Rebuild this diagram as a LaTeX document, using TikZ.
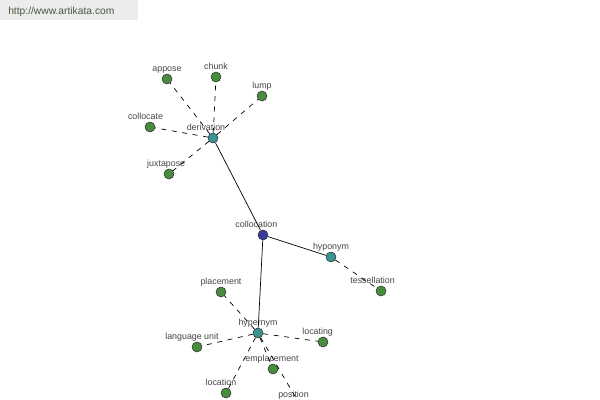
\documentclass[tikz,border=0pt]{standalone}
\usepackage{fontspec}
\setmainfont{Liberation Sans}
\usetikzlibrary{positioning}
\definecolor{leafgreen}{RGB}{72,140,62}
\definecolor{hubteal}{RGB}{58,148,148}
\definecolor{rootblue}{RGB}{58,58,160}
\definecolor{labelgray}{RGB}{70,70,70}
\definecolor{markbg}{RGB}{236,236,236}
\definecolor{marktext}{RGB}{70,90,60}
\tikzset{
  dot/.style={circle, draw=black!80, line width=0.4pt, minimum size=0.25cm, inner sep=0pt},
  leaf/.style={dot, fill=leafgreen},
  hub/.style={dot, fill=hubteal},
  root/.style={dot, fill=rootblue},
  lbl/.style={anchor=base, font=\fontsize{6.3}{7}\selectfont, text=labelgray, inner sep=0pt},
  rel/.style={line width=0.5pt, black},
  weak/.style={line width=0.5pt, black, dash pattern=on 3.5pt off 4pt},
}

\begin{document}
\begin{tikzpicture}[x=0.025cm, y=-0.025cm, label distance=1.3pt]
  \useasboundingbox (0,0) rectangle (600,400);
  \clip (0,0) rectangle (600,400);
  \fill[white] (0,0) rectangle (600,400);
  % watermark
  \fill[markbg] (0,0) rectangle (138,20);
  \node[anchor=base west, inner sep=0pt, text=marktext, font=\fontsize{7.3}{9}\selectfont] (site) at (8,15) {http://www.artikata.com};

  % centre
  \node[root, label={[lbl, xshift=-4.7pt]above:collocation}] (collocation) at (263,235) {};
  \node[hub, label={[lbl, xshift=-5pt]above:derivation}] (derivation) at (213,138) {};
  \node[hub, label={[lbl]above:hyponym}] (hyponym) at (331,257) {};
  \node[hub, label={[lbl]above:hypernym}] (hypernym) at (258,333) {};

  % derivation leaves
  \node[leaf, label={[lbl]above:appose}] (appose) at (167,79) {};
  \node[leaf, label={[lbl]above:chunk}] (chunk) at (216,77) {};
  \node[leaf, label={[lbl]above:lump}] (lump) at (262,96) {};
  \node[leaf, label={[lbl, xshift=-3.2pt]above:collocate}] (collocate) at (150,127) {};
  \node[leaf, label={[lbl, xshift=-2pt]above:juxtapose}] (juxtapose) at (169,174) {};

  % hyponym leaves
  \node[leaf, label={[lbl, xshift=-6pt]above:tessellation}] (tessellation) at (381,291) {};

  % hypernym leaves
  \node[leaf, label={[lbl]above:placement}] (placement) at (221,292) {};
  \node[leaf, label={[lbl, xshift=-3.6pt]above:language unit}] (langunit) at (197,347) {};
  \node[leaf, label={[lbl, xshift=-3.8pt]above:locating}] (locating) at (323,342) {};
  \node[leaf, label={[lbl, xshift=-0.7pt]above:emplacement}] (emplacement) at (273,369) {};
  \node[leaf, label={[lbl, xshift=-3.6pt]above:location}] (location) at (226,393) {};
  \node[leaf, label={[lbl, xshift=-4.6pt]above:position}] (position) at (300,405) {};

  % solid links
  \draw[rel] (derivation) -- (collocation);
  \draw[rel] (collocation) -- (hyponym);
  \draw[rel] (collocation) -- (hypernym);

  % dashed links
  \foreach \leaf in {appose,chunk,lump,collocate,juxtapose}
    \draw[weak] (derivation) -- (\leaf);
  \draw[weak] (hyponym) -- (tessellation);
  \foreach \leaf in {placement,langunit,locating,emplacement,location,position}
    \draw[weak] (hypernym) -- (\leaf);
\end{tikzpicture}
\end{document}
